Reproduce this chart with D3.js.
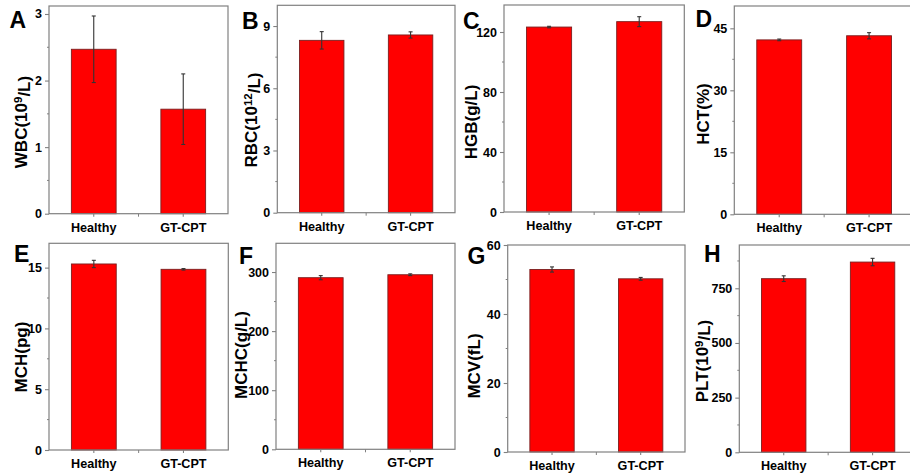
<!DOCTYPE html>
<html>
<head>
<meta charset="utf-8">
<script src="https://cdn.jsdelivr.net/npm/d3@7/dist/d3.min.js"></script>
<style>
  html, body { margin: 0; padding: 0; background: #fff; }
  svg { display: block; }
  text { font-family: "Liberation Sans", Arial, sans-serif; font-weight: bold; fill: #000; }
</style>
</head>
<body>
<svg id="chart" width="910" height="474"></svg>
<script>
// Blood panel: Healthy vs GT-CPT, mean ± SD
const groups = ["Healthy", "GT-CPT"];
const panelLetters = ["A", "B", "C", "D", "E", "F", "G", "H"];
const metricNames = ["WBC", "RBC", "HGB", "HCT", "MCH", "MCHC", "MCV", "PLT"];
const metricUnits = [["10", "9", "/L"], ["10", "12", "/L"], ["g/L"], ["%"], ["pg"], ["g/L"], ["fL"], ["10", "9", "/L"]];
const healthyMeans  = [2.47, 8.31, 123.3, 42.2, 15.3, 290.4, 52.9, 794];
const healthyErrors = [0.50, 0.42, 0.5, 0.2, 0.3, 3.5, 0.75, 13];
const gtcptMeans    = [1.57, 8.57, 126.9, 43.2, 14.86, 295.4, 50.2, 870];
const gtcptErrors   = [0.53, 0.15, 3.3, 0.75, 0.06, 1.5, 0.4, 17];
const yMax = [3.12, 10, 138, 50.4, 17, 348.6, 60, 948];
const yTicks = [
  [0, 1, 2, 3], [0, 3, 6, 9], [0, 40, 80, 120], [0, 15, 30, 45],
  [0, 5, 10, 15], [0, 100, 200, 300], [0, 20, 40, 60], [0, 250, 500, 750]
];

// Panel frames [left, top, right, bottom], letter position, y-title centre
const frames = [
  [49, 6, 228, 213.7], [277.3, 5.3, 455, 212.7], [504, 5, 684.3, 212], [734.3, 6, 914, 214.3],
  [49, 243.3, 228.3, 450], [276, 243.3, 455, 449.3], [507.7, 245, 685, 452], [739.3, 245, 917, 452.3]
];
const letterPos = [[9.5, 28.3], [242, 28.5], [463, 28.5], [695.5, 27], [14, 262], [239, 263.5], [467.5, 263.5], [704, 262]];
const titlePos = [[21, 122], [251, 120], [471, 122], [703, 114], [21, 357], [241, 355], [474, 366], [701.7, 361]];

const svg = d3.select("#chart");
const frameColor = "#808080";

metricNames.forEach((name, i) => {
  const [l, t, r, b] = frames[i];
  const g = svg.append("g");

  const x = d3.scaleBand().domain(groups).range([l, r]).paddingInner(0.5).paddingOuter(0.25);
  const y = d3.scaleLinear().domain([0, yMax[i]]).range([b, t]);

  const rows = groups.map((grp, k) => ({
    grp,
    mean: k === 0 ? healthyMeans[i] : gtcptMeans[i],
    err: k === 0 ? healthyErrors[i] : gtcptErrors[i]
  }));

  // bars
  g.selectAll("rect.bar").data(rows).join("rect")
    .attr("class", "bar")
    .attr("x", d => x(d.grp))
    .attr("width", x.bandwidth())
    .attr("y", d => y(d.mean))
    .attr("height", d => y(0) - y(d.mean))
    .attr("fill", "#ff0000")
    .attr("stroke", "#7a1f1f")
    .attr("stroke-width", 0.9);

  // error bars
  const eb = g.selectAll("g.err").data(rows).join("g").attr("class", "err")
    .attr("stroke", "#333").attr("stroke-width", 1.1);
  eb.append("line")
    .attr("x1", d => x(d.grp) + x.bandwidth() / 2).attr("x2", d => x(d.grp) + x.bandwidth() / 2)
    .attr("y1", d => y(d.mean + d.err)).attr("y2", d => y(d.mean - d.err));
  [1, -1].forEach(s => {
    eb.append("line")
      .attr("x1", d => x(d.grp) + x.bandwidth() / 2 - 2).attr("x2", d => x(d.grp) + x.bandwidth() / 2 + 2)
      .attr("y1", d => y(d.mean + s * d.err)).attr("y2", d => y(d.mean + s * d.err));
  });

  // frame
  g.append("rect").attr("x", l).attr("y", t).attr("width", r - l).attr("height", b - t)
    .attr("fill", "none").attr("stroke", frameColor).attr("stroke-width", 1.2);

  // y axis (major)
  const yAxis = g.append("g").attr("transform", `translate(${l},0)`)
    .call(d3.axisLeft(y).tickValues(yTicks[i]).tickSize(4).tickPadding(3).tickFormat(d3.format("d")));
  yAxis.select(".domain").remove();
  yAxis.selectAll("line").attr("stroke", frameColor).attr("stroke-width", 1.1);
  yAxis.selectAll("text").style("font-size", "12.5px").style("font-family", "Liberation Sans, Arial, sans-serif")
    .style("font-weight", "bold").attr("fill", "#000");

  // y axis minor ticks at half steps
  const step = yTicks[i][1] - yTicks[i][0];
  const minors = d3.range(step / 2, yMax[i], step).filter(v => !yTicks[i].includes(v));
  g.selectAll("line.minor").data(minors).join("line").attr("class", "minor")
    .attr("x1", l - 2).attr("x2", l).attr("y1", d => y(d)).attr("y2", d => y(d))
    .attr("stroke", frameColor).attr("stroke-width", 1);

  // x axis
  const xAxis = g.append("g").attr("transform", `translate(0,${b})`)
    .call(d3.axisBottom(x).tickSize(3).tickPadding(6));
  xAxis.select(".domain").remove();
  xAxis.selectAll("line").attr("stroke", frameColor).attr("stroke-width", 1.1);
  xAxis.selectAll("text").style("font-size", "12.6px").style("font-family", "Liberation Sans, Arial, sans-serif")
    .style("font-weight", "bold").attr("fill", "#000");
  g.append("line").attr("x1", (l + r) / 2).attr("x2", (l + r) / 2).attr("y1", b).attr("y2", b + 3)
    .attr("stroke", frameColor).attr("stroke-width", 1);

  // panel letter
  g.append("text").attr("x", letterPos[i][0]).attr("y", letterPos[i][1])
    .style("font-size", "23px").text(panelLetters[i]);

  // y title
  const u = metricUnits[i];
  const title = g.append("text")
    .attr("transform", `translate(${titlePos[i][0]},${titlePos[i][1]}) rotate(-90)`)
    .attr("text-anchor", "middle").attr("dy", "0.36em")
    .style("font-size", "17px");
  if (u.length === 3) {
    title.append("tspan").text(`${name}(${u[0]}`);
    title.append("tspan").attr("dy", "-0.45em").style("font-size", "11.5px").text(u[1]);
    title.append("tspan").attr("dy", "0.45em").text(`${u[2]})`);
  } else {
    title.append("tspan").text(`${name}(${u[0]})`);
  }
});
</script>
</body>
</html>
